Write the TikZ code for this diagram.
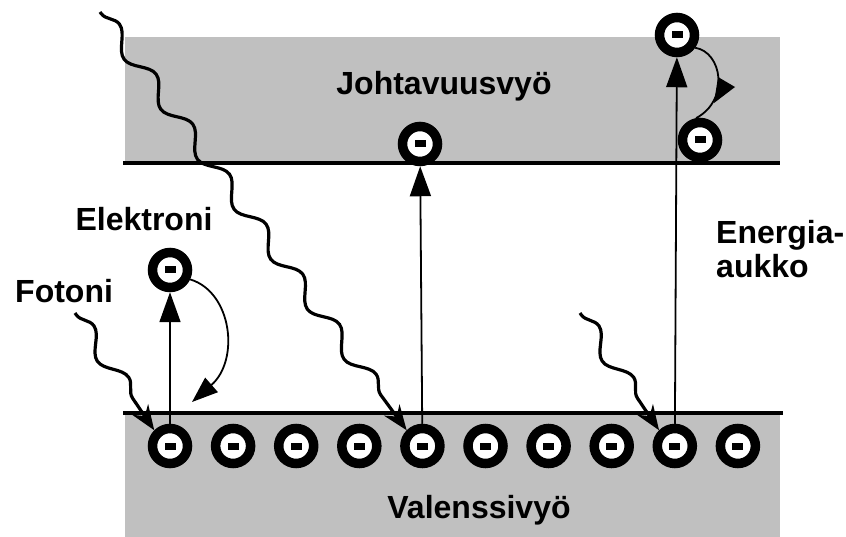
\documentclass[tikz,border=0pt]{standalone}
\usepackage{fontspec}
\setmainfont{Liberation Sans}
\usetikzlibrary{arrows.meta,decorations.pathmorphing}
\definecolor{bandgray}{RGB}{192,192,192}
\tikzset{
  band/.style={fill=bandgray, draw=none},
  bandline/.style={line width=4pt, black},
  electron/.style={circle, draw=black, line width=9.5pt, fill=white, minimum size=35pt, inner sep=0pt,
    path picture={\fill[black] ([xshift=-5.5pt,yshift=-3.5pt]path picture bounding box.center) rectangle ++(11pt,7pt);}},
  uparrow/.style={line width=1.8pt, -{Triangle[length=30pt,width=21pt]}},
  backarrow/.style={line width=1.8pt, -{Triangle[length=26pt,width=19pt]}},
  photon/.style={line width=3.2pt, decorate,
    decoration={snake, segment length=62pt, amplitude=8.5pt, pre length=2pt, post length=20pt},
    -{Stealth[length=25pt,width=19pt,inset=8pt]}},
  lbl/.style={font=\bfseries\fontsize{32}{34}\selectfont, inner sep=0pt}
}
\begin{document}
\begin{tikzpicture}[x=1pt,y=-1pt]
\useasboundingbox (0,0) rectangle (846,537);
% bands
\fill[band] (125,37) rectangle (780,163);
\fill[band] (125,413) rectangle (780,537);
\draw[bandline] (123,163) -- (780,163);
\draw[bandline] (123,413) -- (783,413);
% labels
\node[lbl, anchor=base] (tj) at (444,95) {Johtavuusvyö};
\node[lbl, anchor=base] (tv) at (479,518) {Valenssivyö};
\node[lbl, anchor=base] (te) at (144,231) {Elektroni};
\node[lbl, anchor=base west] (tf) at (15,303) {Fotoni};
\node[lbl, anchor=base west, align=left] (tg) at (716,278) {Energia-\\aukko};
% valence electrons
\foreach \i in {0,...,9} {
  \node[electron] (v\i) at ({170+63.1*\i},446) {};
}
% excited electrons
\node[electron] (e1) at (170,270) {};
\node[electron] (e2) at (420,144) {};
\node[electron] (e3) at (677,35) {};
\node[electron] (e4) at (700,140) {};
% vertical arrows
\draw[uparrow] (v0) -- (e1);
\draw[uparrow] (v4) -- (e2);
\draw[uparrow] (v8) -- (e3);
% relaxation arrows
\coordinate (r1) at (192,402);
\draw[backarrow] (e1.-25) .. controls (232,292) and (240,360) .. (r1);
\draw[line width=1.8pt] (e3.-35) .. controls (722,52) and (730,100) .. (e4.100);
\fill[black] (718,77) -- (735,87) -- (714,103) -- cycle;
% photons
\coordinate (p1) at (100,12);
\coordinate (p2) at (75,313);
\coordinate (p3) at (580,313);
\draw[photon] (p1) -- (v4.north west);
\draw[photon] (p2) -- (v0.north west);
\draw[photon] (p3) -- (v8.north west);
\end{tikzpicture}
\end{document}
